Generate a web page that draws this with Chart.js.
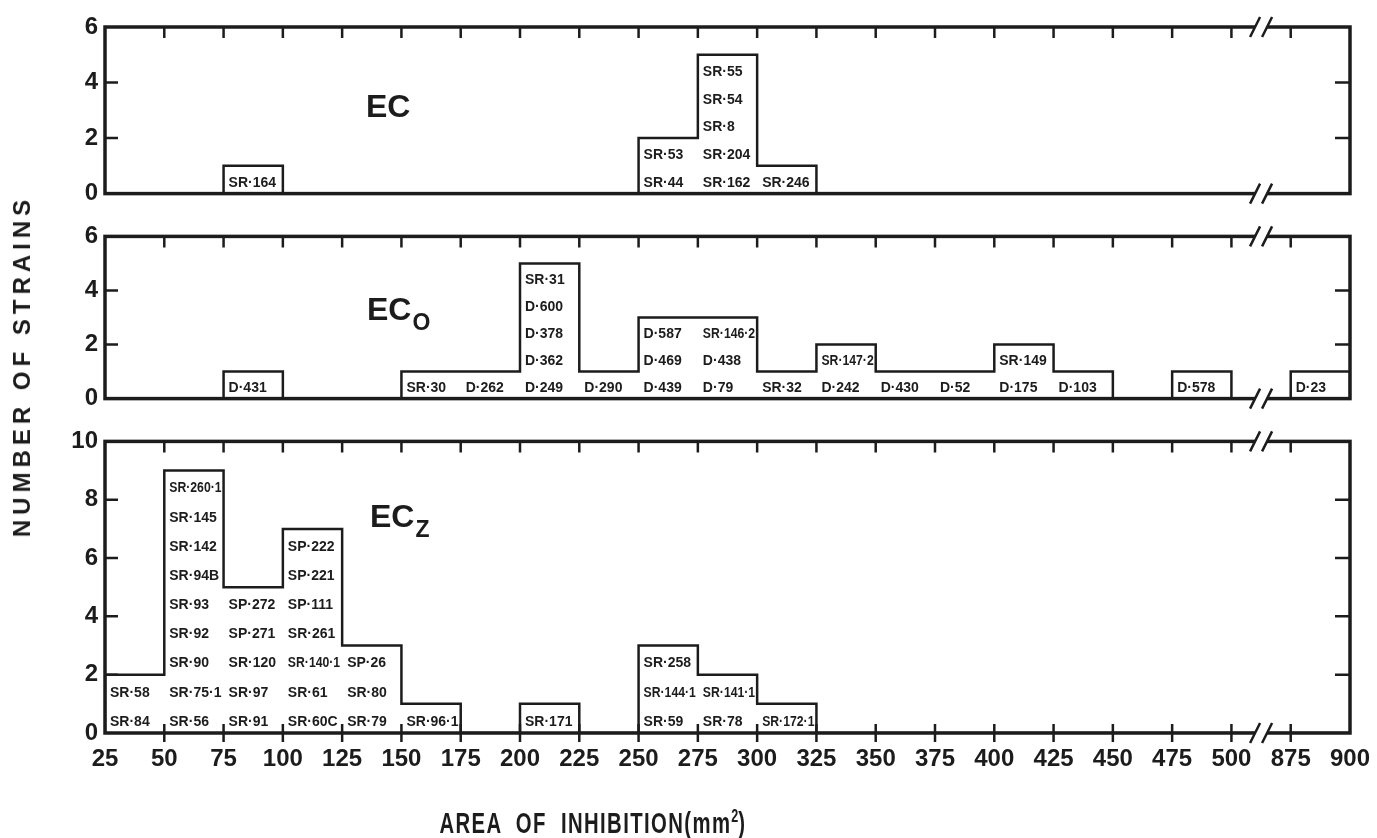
<!DOCTYPE html>
<html lang="en">
<head>
<meta charset="UTF-8">
<title>Number of strains by area of inhibition</title>
<script src="https://cdn.jsdelivr.net/npm/chart.js"></script>
<style>
  body { margin: 0; background: #fff; }
  #wrap { position: relative; width: 1377px; height: 838px; overflow: hidden;
          font-family: "Liberation Sans", Arial, sans-serif; color: #1c1c1c; }
  canvas { position: absolute; left: 0; }
  .ytitle { position: absolute; left: 22px; top: 366px; white-space: nowrap;
            transform: translate(-50%, -50%) rotate(-90deg);
            font-weight: bold; font-size: 24px; letter-spacing: 5px; }
  .xtitle { position: absolute; left: 593px; top: 823px; white-space: nowrap;
            transform: translate(-50%, -50%) scaleX(0.7);
            font-weight: bold; font-size: 29px; letter-spacing: 2px; word-spacing: 10px; }
  .xtitle sup { font-size: 18px; letter-spacing: 0; }
</style>
</head>
<body>
<div id="wrap">
  <canvas id="ec"  width="1377" height="215" style="top:0px"></canvas>
  <canvas id="eco" width="1377" height="205" style="top:215px"></canvas>
  <canvas id="ecz" width="1377" height="418" style="top:420px"></canvas>
  <div class="ytitle">NUMBER OF STRAINS</div>
  <div class="xtitle">AREA OF INHIBITION(mm<sup>2</sup>)</div>
</div>

<script>
  const INK = '#1c1c1c';
  const FONT = '"Liberation Sans", Arial, sans-serif';

  // tick positions 0..21 ; bin i runs from tick i to tick i+1
  const xTickLabels = ['25','50','75','100','125','150','175','200','225','250','275',
                       '300','325','350','375','400','425','450','475','500','875','900'];
  const BREAK_BIN = 19; // 500 -> 875 is the axis break

  // number of strains per bin
  const ecCounts  = [0,0,1,0,0,0,0,0,0,2,5,1,0,0,0,0,0,0,0,0,0];
  const ecoCounts = [0,0,1,0,0,1,1,5,1,3,3,1,2,1,1,2,1,0,1,0,1];
  const eczCounts = [2,9,5,7,3,1,0,1,0,3,2,1,0,0,0,0,0,0,0,0,0];

  // strain names per bin, listed from the bottom up
  const ecStrains = [
    [], [], ['SR·164'], [], [], [], [], [], [],
    ['SR·44','SR·53'],
    ['SR·162','SR·204','SR·8','SR·54','SR·55'],
    ['SR·246'],
    [], [], [], [], [], [], [], [], []
  ];
  const ecoStrains = [
    [], [], ['D·431'], [], [], ['SR·30'], ['D·262'],
    ['D·249','D·362','D·378','D·600','SR·31'],
    ['D·290'],
    ['D·439','D·469','D·587'],
    ['D·79','D·438','SR·146·2'],
    ['SR·32'],
    ['D·242','SR·147·2'],
    ['D·430'], ['D·52'],
    ['D·175','SR·149'],
    ['D·103'], [], ['D·578'], [], ['D·23']
  ];
  const eczStrains = [
    ['SR·84','SR·58'],
    ['SR·56','SR·75·1','SR·90','SR·92','SR·93','SR·94B','SR·142','SR·145','SR·260·1'],
    ['SR·91','SR·97','SR·120','SP·271','SP·272'],
    ['SR·60C','SR·61','SR·140·1','SR·261','SP·111','SP·221','SP·222'],
    ['SR·79','SR·80','SP·26'],
    ['SR·96·1'], [], ['SR·171'], [],
    ['SR·59','SR·144·1','SR·258'],
    ['SR·78','SR·141·1'],
    ['SR·172·1'],
    [], [], [], [], [], [], [], [], []
  ];

  // histogram outline as a stepped line through the bin edges
  function outline(counts) {
    const pts = [{ x: 0, y: 0 }];
    counts.forEach((c, i) => pts.push({ x: i, y: c }));
    pts.push({ x: counts.length, y: 0 });
    return pts;
  }

  // frame, inner ticks, axis break, strain names and panel title
  function panelPlugin(strains, title, isBottom) {
    return {
      id: 'panel',
      afterDatasetsDraw(chart) {
        const { ctx, chartArea: a, scales: { x, y } } = chart;
        ctx.save();
        ctx.strokeStyle = INK;
        ctx.fillStyle = INK;

        ctx.font = 'bold 14px ' + FONT;
        ctx.textBaseline = 'middle';
        ctx.textAlign = 'left';
        strains.forEach((names, bin) => {
          const x0 = x.getPixelForValue(bin);
          const w = x.getPixelForValue(bin + 1) - x0;
          names.forEach((n, k) => ctx.fillText(n, x0 + 5, y.getPixelForValue(k + 0.38), w - 7));
        });

        ctx.lineWidth = 3.5;
        ctx.strokeRect(a.left, a.top, a.width, a.height);

        ctx.lineWidth = 2.5;
        ctx.beginPath();
        for (let i = 1; i < xTickLabels.length - 1; i++) {
          const px = x.getPixelForValue(i);
          ctx.moveTo(px, a.top); ctx.lineTo(px, a.top + 11);
          if (isBottom) { ctx.moveTo(px, a.bottom - 9); ctx.lineTo(px, a.bottom + 9); }
        }
        y.ticks.forEach(t => {
          if (t.value <= y.min || t.value >= y.max) return;
          const py = y.getPixelForValue(t.value);
          ctx.moveTo(a.left, py); ctx.lineTo(a.left + 13, py);
          ctx.moveTo(a.right - 15, py); ctx.lineTo(a.right, py);
        });
        ctx.stroke();

        const bx = x.getPixelForValue(BREAK_BIN + 0.5);
        [a.top, a.bottom].forEach(by => {
          ctx.fillStyle = '#fff';
          ctx.fillRect(bx - 6, by - 3, 12, 6);
          ctx.beginPath();
          [-6, 6].forEach(d => { ctx.moveTo(bx + d - 5, by + 10); ctx.lineTo(bx + d + 5, by - 10); });
          ctx.stroke();
        });

        ctx.fillStyle = INK;
        ctx.textBaseline = 'alphabetic';
        ctx.font = 'bold 32px ' + FONT;
        ctx.fillText(title.main, title.x, title.y);
        if (title.sub) {
          const w = ctx.measureText(title.main).width;
          ctx.font = 'bold 23px ' + FONT;
          ctx.fillText(title.sub, title.x + w + 1, title.y + 10);
        }
        ctx.restore();
      }
    };
  }

  function makePanel(id, counts, strains, yMax, pad, title, isBottom) {
    new Chart(document.getElementById(id), {
      type: 'line',
      data: {
        datasets: [{
          data: outline(counts),
          stepped: 'before',
          borderColor: INK,
          borderWidth: 2.5,
          pointRadius: 0,
          fill: false
        }]
      },
      options: {
        responsive: false,
        animation: false,
        devicePixelRatio: 1,
        layout: { padding: { top: pad.top, bottom: pad.bottom, left: 0, right: 27 } },
        plugins: { legend: { display: false }, tooltip: { enabled: false } },
        scales: {
          x: {
            type: 'linear', min: 0, max: xTickLabels.length - 1,
            display: isBottom,
            grid: { display: false, drawTicks: false },
            border: { display: false },
            afterFit: s => {
              s.height = isBottom ? 105 : 0;
              s.paddingLeft = 0;
              s.paddingRight = 0;
            },
            ticks: {
              stepSize: 1, autoSkip: false, maxRotation: 0, padding: 12,
              color: INK, font: { family: FONT, size: 24, weight: 'bold' },
              callback: v => xTickLabels[v]
            }
          },
          y: {
            min: 0, max: yMax,
            grid: { display: false, drawTicks: false },
            border: { display: false },
            afterFit: s => { s.width = 105; },
            ticks: {
              stepSize: 2, padding: 7,
              color: INK, font: { family: FONT, size: 24, weight: 'bold' }
            }
          }
        }
      },
      plugins: [panelPlugin(strains, title, isBottom)]
    });
  }

  makePanel('ec',  ecCounts,  ecStrains,  6,  { top: 27, bottom: 16 },
            { main: 'EC', sub: '',  x: 366, y: 117 }, false);
  makePanel('eco', ecoCounts, ecoStrains, 6,  { top: 16, bottom: 11 },
            { main: 'EC', sub: 'O', x: 367, y: 105 }, false);
  makePanel('ecz', eczCounts, eczStrains, 10, { top: 16, bottom: 0 },
            { main: 'EC', sub: 'Z', x: 370, y: 107 }, true);
</script>
</body>
</html>
